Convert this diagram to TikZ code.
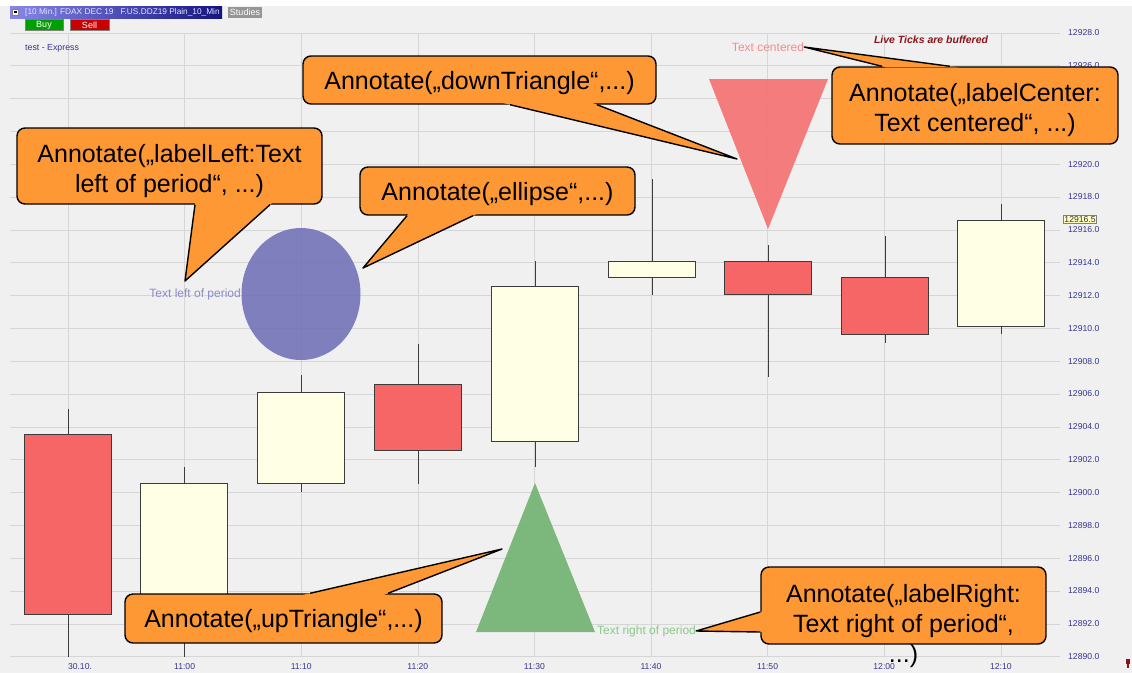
\documentclass[tikz,border=0pt]{standalone}
\usepackage{fontspec}
\setmainfont{Liberation Sans}
\usetikzlibrary{calc,shapes.geometric}

\definecolor{chartbg}{RGB}{240,240,240}
\definecolor{gridgray}{RGB}{214,214,214}
\definecolor{axisblue}{RGB}{52,52,150}
\definecolor{bearred}{RGB}{247,102,102}
\definecolor{bullcream}{RGB}{255,255,230}
\definecolor{wickgray}{RGB}{60,60,60}
\definecolor{calloutorange}{RGB}{254,152,52}
\definecolor{ellblue}{RGB}{115,115,185}
\definecolor{downred}{RGB}{245,112,112}
\definecolor{upgreen}{RGB}{112,179,112}
\definecolor{leftlabel}{RGB}{140,140,200}
\definecolor{centerlabel}{RGB}{245,140,140}
\definecolor{rightlabel}{RGB}{140,200,140}
\definecolor{livered}{RGB}{140,20,30}
\definecolor{hdrlight}{RGB}{135,135,235}
\definecolor{hdrdark}{RGB}{20,20,130}
\definecolor{studiesgray}{RGB}{150,150,150}
\definecolor{buygreen}{RGB}{0,160,0}
\definecolor{sellred}{RGB}{200,0,0}
\definecolor{lastyellow}{RGB}{255,255,195}

\begin{document}
\begin{tikzpicture}[x=1pt, y=-1pt,
  callbox/.style={draw, fill=calloutorange, line width=1.4pt, rounded corners=8pt,
    inner sep=0pt, align=center, text height=18pt, text depth=0pt,
    font=\fontsize{25}{30}\selectfont},
  twoline/.style={text height=56pt, text depth=4pt},
  calltail/.style={draw, line width=1.4pt, line join=round},
  candle/.style={draw=wickgray, line width=0.9pt},
  wick/.style={wickgray, line width=1pt},
  ticklabel/.style={text=axisblue, inner sep=0pt, font=\fontsize{8.6}{10}\selectfont},
  annot/.style={inner sep=0pt, font=\fontsize{12}{14}\selectfont},
  hdrbox/.style={text=white, inner sep=0pt, minimum height=11pt,
    font=\fontsize{9}{10}\selectfont}]

  \useasboundingbox (0,0) rectangle (1132,673);
  \fill[white] (0,0) rectangle (1132,673);
  \fill[chartbg] (0,6) rectangle (1132,673);

  \foreach \i in {0,...,19}
    \draw[gridgray] (10,{32.7+\i*32.84}) -- (1060,{32.7+\i*32.84});
  \foreach \i in {0,...,8}
    \draw[gridgray] ({68+\i*116.6},32.7) -- ({68+\i*116.6},657);

  \foreach \i in {0,...,19} {
    \pgfmathtruncatemacro{\price}{12928-2*\i}
    \node[ticklabel, anchor=west] (p\i) at (1068,{32.7+\i*32.84}) {\price.0};
  }
  \node[ticklabel] (t0) at (80,667) {30.10.};
  \foreach \t [count=\i] in {11:00,11:10,11:20,11:30,11:40,11:50,12:00,12:10}
    \node[ticklabel] (t\i) at ({68+\i*116.6},667) {\t};
  \node[draw=gray, fill=lastyellow, inner sep=1pt, text=black!80,
        font=\fontsize{8.6}{10}\selectfont] (last) at (1080,219.5) {12916.5};

  \foreach \cx/\hi/\lo/\tp/\bt/\col in {68/409/657/434/614/bearred,
      184/467/657/483/610/bullcream, 301/375/492/392/483/bullcream,
      418/344/484/384/450/bearred, 535/261/467/286/441/bullcream,
      652/179/295/261/277/bullcream, 768/245/377/261/294/bearred,
      885/236/343/277/334/bearred, 1001/204/334/220/326/bullcream} {
    \draw[wick] (\cx,\hi) -- (\cx,\lo);
    \draw[candle, fill=\col] (\cx-43.5,\tp) rectangle (\cx+43.5,\bt);
  }

  \node[ellipse, fill=ellblue, opacity=0.9, minimum width=119pt,
        minimum height=132pt, inner sep=0pt] (oval) at (301,294) {};
  \fill[downred, opacity=0.9] (709,79) -- (828,79) -- (768,229) -- cycle;
  \fill[upgreen, opacity=0.9] (535,483) -- (476,632) -- (595,632) -- cycle;

  \node[annot, text=leftlabel, anchor=east] (tLeft) at (241,294) {Text left of period};
  \node[annot, text=centerlabel] (tCenter) at (768,47) {Text centered};
  \node[annot, text=rightlabel, anchor=west] (tRight) at (597,631) {Text right of period};
  \node[text=livered, inner sep=0pt, font=\fontsize{10.5}{12}\selectfont\bfseries\itshape]
        (live) at (931,40) {Live Ticks are buffered};
  \node[text=axisblue, anchor=west, inner sep=0pt, font=\fontsize{8.8}{10}\selectfont]
        (title) at (25,48) {test - Express};

  \shade[left color=hdrlight, right color=hdrdark] (10,6) rectangle (222,18.5);
  \filldraw[fill=white, draw=gray] (12,9) rectangle (18,15);
  \draw[black, line width=1.2pt] (13.5,12) -- (16.5,12);
  \node[text=white!90!blue, anchor=west, inner sep=0pt, font=\fontsize{8.3}{10}\selectfont]
        (hdr) at (25,12.5) {[10 Min.] FDAX DEC 19\ \ \ F.US.DDZ19 Plain\_10\_Min};
  \node[hdrbox, fill=studiesgray, minimum width=34pt] (studies) at (245,12.5) {Studies};
  \node[hdrbox, fill=buygreen, draw=gray, minimum width=38pt] (buy) at (44,25) {Buy};
  \node[hdrbox, fill=sellred, draw=gray, minimum width=39pt] (sell) at (89.5,25) {Sell};
  \fill[livered] (1126,659) rectangle (1130,664);
  \fill[livered] (1127.3,664) rectangle (1128.7,668);

  \node[callbox, twoline, minimum width=305pt, minimum height=76pt]
        (cLeft) at (169.5,166) {Annotate(„labelLeft:Text\\left of period“, ...)};
  \node[callbox, minimum width=275pt, minimum height=48pt]
        (cOval) at (497.5,191) {Annotate(„ellipse“,...)};
  \node[callbox, minimum width=353pt, minimum height=48pt]
        (cDown) at (479.5,80) {Annotate(„downTriangle“,...)};
  \node[callbox, twoline, minimum width=286pt, minimum height=77pt]
        (cCenter) at (975,105.5) {Annotate(„labelCenter:\\Text centered“, ...)};
  \node[callbox, minimum width=317pt, minimum height=49pt]
        (cUp) at (283.5,618.5) {Annotate(„upTriangle“,...)};
  \node[callbox, text height=113pt, text depth=0pt, inner ysep=-20pt,
        minimum width=285pt, minimum height=77pt]
        (cRight) at (903.5,605.5) {Annotate(„labelRight:\\Text right of period“,\\...)};

  \coordinate (lA) at ([xshift=25.5pt]cLeft.south);
  \coordinate (lB) at ([xshift=100.5pt]cLeft.south);
  \coordinate (lTip) at (185,281);
  \coordinate (oA) at ([xshift=-90.5pt]cOval.south);
  \coordinate (oB) at ([xshift=-24.5pt]cOval.south);
  \coordinate (oTip) at (363,268);
  \coordinate (dA) at ([xshift=30.5pt]cDown.south);
  \coordinate (dB) at ([xshift=117.5pt]cDown.south);
  \coordinate (dTip) at (737,159);
  \coordinate (cA) at ([xshift=-93pt]cCenter.north);
  \coordinate (cB) at ([xshift=-25pt]cCenter.north);
  \coordinate (uA) at ([xshift=26.5pt]cUp.north);
  \coordinate (uB) at ([xshift=104.5pt]cUp.north);
  \coordinate (uTip) at (502,549);
  \coordinate (rA) at ([yshift=-6.5pt]cRight.west);
  \coordinate (rB) at ([yshift=-26.5pt]cRight.west);

  \foreach \a/\b/\tip in {lA/lB/lTip, oA/oB/oTip, dA/dB/dTip, cA/cB/tCenter.east,
      uA/uB/uTip, rA/rB/tRight.east} {
    \fill[calloutorange] (\tip) -- ($(\tip)!1.06!(\a)$) -- ($(\tip)!1.06!(\b)$) -- cycle;
    \draw[calltail] (\a) -- (\tip) -- (\b);
  }
\end{tikzpicture}
\end{document}
